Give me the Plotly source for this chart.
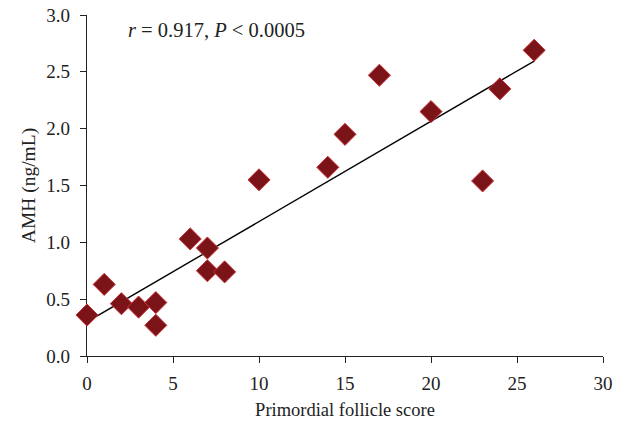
import plotly.graph_objects as go

follicle_score = [0, 1, 2, 3, 4, 4, 6, 7, 7, 8, 10, 14, 15, 17, 20, 23, 24, 26]
amh = [0.36, 0.63, 0.46, 0.43, 0.47, 0.27, 1.03, 0.95, 0.75, 0.74, 1.55, 1.66, 1.95, 2.47, 2.15, 1.54, 2.35, 2.69]
x_ticks = [0, 5, 10, 15, 20, 25, 30]
y_ticks = [0.0, 0.5, 1.0, 1.5, 2.0, 2.5, 3.0]

# trend line (start and end of the fitted line)
trend_x = [0, 26]
trend_y = [0.30, 2.595]

font = "Liberation Serif, Times New Roman, serif"

fig = go.Figure()
fig.add_trace(go.Scatter(x=trend_x, y=trend_y, mode="lines",
                         line=dict(color="black", width=1.4), showlegend=False, hoverinfo="skip"))
fig.add_trace(go.Scatter(x=follicle_score, y=amh, mode="markers", cliponaxis=False,
                         marker=dict(symbol="diamond", size=17, color="#7a1418",
                                     line=dict(color="#c8343a", width=1)),
                         showlegend=False))

fig.update_layout(
    width=628, height=423,
    margin=dict(l=87, r=25, t=15, b=67, autoexpand=False),
    paper_bgcolor="white", plot_bgcolor="white",
    font=dict(family=font, size=19, color="#222"),
    xaxis=dict(range=[0, 30], tickvals=x_ticks, ticktext=[str(v) for v in x_ticks],
               showgrid=False, zeroline=False, showline=True, linecolor="#222", linewidth=1.2,
               ticks="outside", ticklen=6, tickcolor="#222", ticklabelstandoff=4,
               automargin=False, layer="below traces",
               title=dict(text="Primordial follicle score", standoff=10, font=dict(size=18.5))),
    yaxis=dict(range=[0, 3.0], tickvals=y_ticks, ticktext=[f"{v:.1f}" for v in y_ticks],
               showgrid=False, zeroline=False, showline=True, linecolor="#222", linewidth=1.2,
               ticks="outside", ticklen=6, tickcolor="#222", ticklabelstandoff=6,
               automargin=False, layer="below traces",
               title=dict(text="AMH (ng/mL)", standoff=5, font=dict(size=19.5))),
    annotations=[dict(x=(126 - 87) / (603 - 87), y=2.87, xref="paper", yref="y",
                      xanchor="left", yanchor="middle",
                      text="<i>r</i> = 0.917, <i>P</i> &lt; 0.0005", showarrow=False,
                      font=dict(family=font, size=20.5, color="#222"))],
)
fig.write_html("out.html", config={"displayModeBar": False})

with open("out.html", encoding="utf-8") as f:
    html = f.read()
html = html.replace("<head>", "<head><style>html,body{margin:0;padding:0;overflow:hidden;}</style>", 1)
with open("out.html", "w", encoding="utf-8") as f:
    f.write(html)
